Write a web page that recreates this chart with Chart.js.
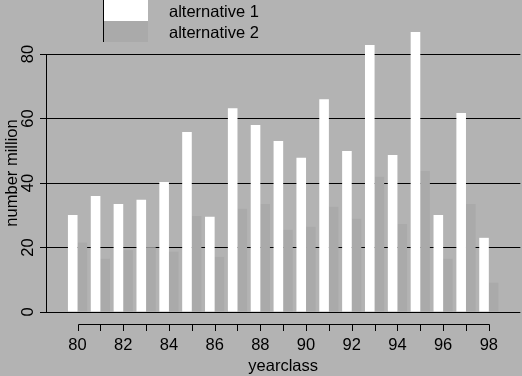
<!DOCTYPE html>
<html>
<head>
<meta charset="utf-8">
<script src="https://cdn.jsdelivr.net/npm/chart.js@4.4.0/dist/chart.umd.min.js"></script>
<style>
  html, body { margin: 0; padding: 0; background: #b3b3b3; }
  canvas { display: block; }
</style>
</head>
<body>
<canvas id="chart" width="522" height="376"></canvas>
<script>
// year classes and the two alternatives (number million)
const years = [80, 81, 82, 83, 84, 85, 86, 87, 88, 89, 90, 91, 92, 93, 94, 95, 96, 97, 98];
const alt1 = [30.1, 36.0, 33.5, 34.8, 40.3, 55.8, 29.5, 63.2, 58.0, 53.0, 47.8, 66.0, 49.9, 82.8, 48.7, 86.8, 30.1, 61.7, 23.0];
const alt2 = [21.5, 16.5, 19.2, 20.1, 18.7, 29.8, 17.1, 32.0, 33.5, 25.5, 26.4, 32.6, 28.9, 41.9, 27.3, 43.7, 16.5, 33.5, 9.1];
const xTickLabels = ['80', '82', '84', '86', '88', '90', '92', '94', '96', '98'];
const yTicks = [0, 20, 40, 60, 80];
const seriesNames = ['alternative 1', 'alternative 2'];

const FONT = '"Liberation Sans", Arial, Helvetica, sans-serif';
const FSIZE = 16.5;
Chart.defaults.font.family = FONT;
Chart.defaults.font.size = FSIZE;
Chart.defaults.color = '#000';

// R-like extras: detached x axis line, rotated y labels, legend
const rStyle = {
  id: 'rStyle',
  afterDraw(chart) {
    const ctx = chart.ctx;
    const area = chart.chartArea;
    const xs = chart.scales.x;
    const ys = chart.scales.y;
    ctx.save();
    ctx.strokeStyle = '#000';
    ctx.lineWidth = 1;

    // x axis, set off below the plot
    const axY = Math.round(area.bottom + 12) + 0.5;
    const x0 = Math.round(xs.getPixelForValue(years[0])) + 0.5;
    const x1 = Math.round(xs.getPixelForValue(years[years.length - 1])) + 0.5;
    ctx.beginPath();
    ctx.moveTo(x0, axY);
    ctx.lineTo(x1, axY);
    years.forEach(v => {
      const px = Math.round(xs.getPixelForValue(v)) + 0.5;
      ctx.moveTo(px, axY);
      ctx.lineTo(px, axY + 6.5);
    });
    ctx.stroke();

    // y tick labels, parallel to the axis
    ctx.fillStyle = '#000';
    ctx.font = FSIZE + 'px ' + FONT;
    ctx.textAlign = 'center';
    ctx.textBaseline = 'alphabetic';
    ys.ticks.forEach(t => {
      const py = ys.getPixelForValue(t.value);
      ctx.save();
      ctx.translate(33, py);
      ctx.rotate(-Math.PI / 2);
      ctx.fillText(String(t.value), 0, 0);
      ctx.restore();
    });

    // y title
    ctx.save();
    ctx.translate(17, (area.top + area.bottom) / 2 - 10);
    ctx.rotate(-Math.PI / 2);
    ctx.fillText('number million', 0, 0);
    ctx.restore();

    // legend
    const lx = 103, bw = 45, rh = 21;
    chart.data.datasets.forEach((ds, i) => {
      ctx.fillStyle = ds.backgroundColor;
      ctx.fillRect(lx, i * rh, bw, rh);
      ctx.fillStyle = '#000';
      ctx.textAlign = 'left';
      ctx.fillText(ds.label, 169, i * rh + 16.5);
    });
    ctx.beginPath();
    ctx.moveTo(lx + 0.5, 0);
    ctx.lineTo(lx + 0.5, rh * chart.data.datasets.length);
    ctx.stroke();
    ctx.restore();
  }
};

new Chart(document.getElementById('chart'), {
  type: 'bar',
  data: {
    labels: years,
    datasets: [
      { label: seriesNames[0], data: alt1, backgroundColor: '#ffffff' },
      { label: seriesNames[1], data: alt2, backgroundColor: '#aaaaaa' }
    ]
  },
  options: {
    responsive: false,
    animation: false,
    devicePixelRatio: 1,
    layout: { padding: { top: 54, left: 0, right: 0, bottom: 0 } },
    datasets: {
      bar: { categoryPercentage: 0.84, barPercentage: 1, borderWidth: 0, clip: false }
    },
    plugins: { legend: { display: false }, tooltip: { enabled: false } },
    scales: {
      x: {
        type: 'linear',
        min: 78.62,
        max: 99.38,
        offset: false,
        grid: { display: false, drawTicks: false, offset: false },
        border: { display: false },
        afterBuildTicks: s => { s.ticks = years.map(v => ({ value: v })); },
        afterFit: s => { s.height = 64; },
        ticks: {
          autoSkip: false,
          maxRotation: 0,
          padding: 24,
          callback: v => xTickLabels.includes(String(v)) ? String(v) : ''
        },
        title: { display: true, text: 'yearclass', padding: { top: 0, bottom: 0 } }
      },
      y: {
        min: 0,
        max: 80,
        z: 1,
        afterBuildTicks: s => { s.ticks = yTicks.map(v => ({ value: v })); },
        afterFit: s => { s.width = 46; },
        grid: { color: '#000', lineWidth: 1, tickLength: 6, drawTicks: true },
        border: { display: true, color: '#000', width: 1 },
        ticks: { display: false }
      }
    }
  },
  plugins: [rStyle]
});
</script>
</body>
</html>
